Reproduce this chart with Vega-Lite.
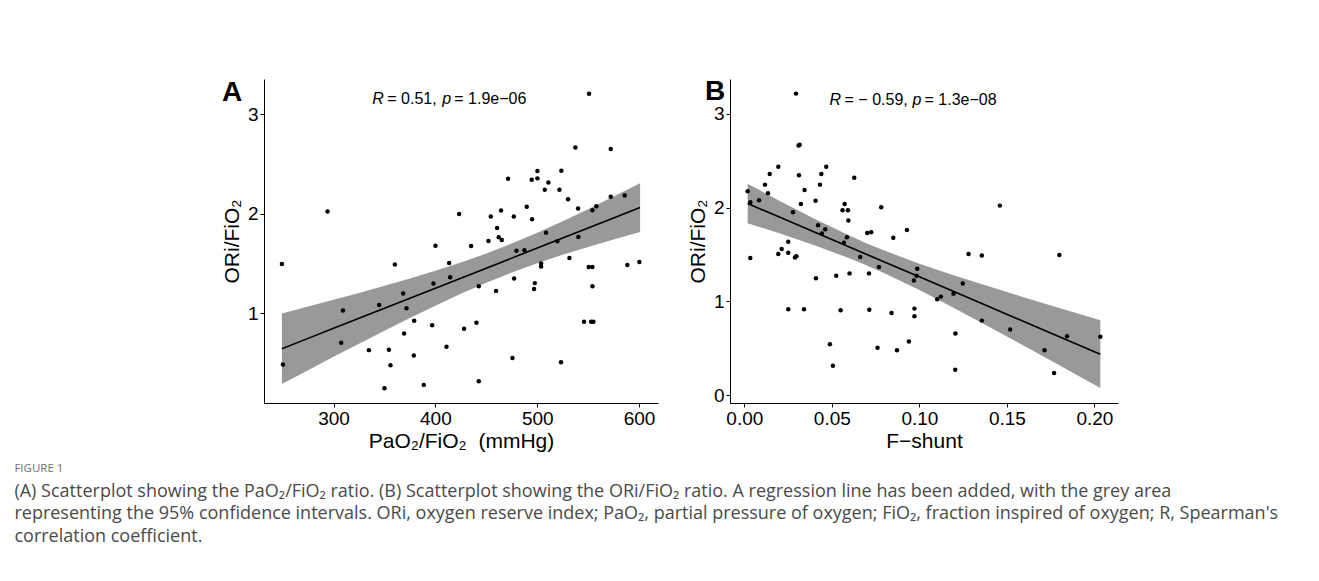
{
  "$schema": "https://vega.github.io/schema/vega-lite/v6.json",
  "padding": {"left": 14, "top": 78, "right": 5, "bottom": 5},
  "background": "white",
  "config": {
    "view": {"stroke": null},
    "font": "Liberation Sans",
    "axis": {
      "grid": false, "domainColor": "black", "tickColor": "black", "labelColor": "black",
      "titleColor": "black", "labelFontSize": 19, "titleFontSize": 21, "titleFontWeight": "normal",
      "tickSize": 4, "labelPadding": 2, "domainWidth": 1, "tickWidth": 1,
      "labelFont": "Liberation Sans", "titleFont": "Liberation Sans"
    },
    "axisY": {"titlePadding": 5},
    "axisX": {"titlePadding": 2}
  },
  "title": {
    "text": "FIGURE 1",
    "subtitle": [
      "(A) Scatterplot showing the PaO₂/FiO₂ ratio. (B) Scatterplot showing the ORi/FiO₂ ratio. A regression line has been added, with the grey area",
      "representing the 95% confidence intervals. ORi, oxygen reserve index; PaO₂, partial pressure of oxygen; FiO₂, fraction inspired of oxygen; R, Spearman's",
      "correlation coefficient."
    ],
    "orient": "bottom", "anchor": "start", "frame": "bounds", "dx": -207, "offset": 12,
    "font": "Open Sans", "fontSize": 11.5, "fontWeight": "normal", "color": "#707070",
    "subtitleFont": "Open Sans", "subtitleFontSize": 18, "subtitleColor": "#4a4a4a",
    "subtitleLineHeight": 22.5, "subtitlePadding": 8
  },
  "spacing": 29,
  "datasets": {
    "ptsA": [
      {"x":249.3,"y":1.494},{"x":250.3,"y":0.486},{"x":294.1,"y":2.022},{"x":309.2,"y":1.027},{"x":307.5,"y":0.704},
      {"x":334.7,"y":0.630},{"x":344.8,"y":1.084},{"x":350.0,"y":0.247},{"x":354.3,"y":0.634},{"x":355.9,"y":0.479},
      {"x":360.2,"y":1.491},{"x":368.4,"y":1.198},{"x":371.6,"y":1.050},{"x":369.3,"y":0.798},{"x":379.2,"y":0.926},
      {"x":378.8,"y":0.576},{"x":388.6,"y":0.281},{"x":396.8,"y":0.879},{"x":398.1,"y":1.299},{"x":400.1,"y":1.679},
      {"x":410.9,"y":0.664},{"x":413.5,"y":1.504},{"x":414.5,"y":1.363},{"x":423.3,"y":1.998},{"x":428.2,"y":0.845},
      {"x":435.1,"y":1.676},{"x":440.3,"y":0.906},{"x":442.6,"y":1.272},{"x":442.6,"y":0.318},{"x":452.1,"y":1.726},
      {"x":454.4,"y":1.971},{"x":459.6,"y":1.225},{"x":460.6,"y":1.857},{"x":462.2,"y":1.763},{"x":464.5,"y":2.032},
      {"x":465.2,"y":1.736},{"x":471.4,"y":2.351},{"x":475.7,"y":0.550},{"x":477.0,"y":1.971},{"x":477.3,"y":1.350},
      {"x":479.6,"y":1.629},{"x":487.4,"y":1.632},{"x":489.7,"y":2.069},{"x":494.6,"y":2.341},{"x":495.0,"y":1.945},
      {"x":496.9,"y":1.245},{"x":497.6,"y":1.303},{"x":500.2,"y":2.429},{"x":500.2,"y":2.355},{"x":503.8,"y":1.501},
      {"x":503.8,"y":1.471},{"x":507.4,"y":2.240},{"x":508.7,"y":1.810},{"x":511.0,"y":2.314},{"x":519.8,"y":1.723},
      {"x":521.8,"y":2.240},{"x":523.4,"y":0.509},{"x":523.7,"y":2.432},{"x":530.3,"y":2.146},{"x":531.6,"y":1.555},
      {"x":537.5,"y":2.664},{"x":540.1,"y":2.052},{"x":540.4,"y":1.766},{"x":546.0,"y":0.916},{"x":550.9,"y":3.205},
      {"x":550.6,"y":1.464},{"x":552.9,"y":0.916},{"x":554.2,"y":1.464},{"x":554.2,"y":2.035},{"x":554.2,"y":1.272},
      {"x":555.2,"y":0.916},{"x":558.1,"y":2.076},{"x":572.2,"y":2.650},{"x":572.2,"y":2.170},{"x":585.9,"y":2.183},
      {"x":588.5,"y":1.484},{"x":600.3,"y":1.514}
    ],
    "bandA": [
      {"x":249.3,"lo":0.291,"hi":0.997,"fit":0.644},
      {"x":275,"lo":0.429,"hi":1.067,"fit":0.748},
      {"x":300,"lo":0.563,"hi":1.135,"fit":0.849},
      {"x":325,"lo":0.695,"hi":1.205,"fit":0.950},
      {"x":350,"lo":0.824,"hi":1.276,"fit":1.050},
      {"x":375,"lo":0.952,"hi":1.350,"fit":1.151},
      {"x":400,"lo":1.076,"hi":1.428,"fit":1.252},
      {"x":425,"lo":1.195,"hi":1.511,"fit":1.353},
      {"x":450,"lo":1.306,"hi":1.600,"fit":1.453},
      {"x":475,"lo":1.409,"hi":1.700,"fit":1.554},
      {"x":500,"lo":1.502,"hi":1.808,"fit":1.655},
      {"x":525,"lo":1.588,"hi":1.924,"fit":1.756},
      {"x":550,"lo":1.666,"hi":2.046,"fit":1.856},
      {"x":575,"lo":1.741,"hi":2.173,"fit":1.957},
      {"x":601,"lo":1.816,"hi":2.307,"fit":2.062}
    ],
    "annA": [{"x":338,"y":3.157,"r":"R","stat":"= 0.51,","p":"p","pval":"= 1.9e−06","panel":"A"}],
    "ptsB": [
      {"x":0.0019,"y":2.174},{"x":0.0034,"y":2.057},{"x":0.0034,"y":1.461},{"x":0.0084,"y":2.078},{"x":0.0118,"y":2.245},
      {"x":0.0135,"y":2.152},{"x":0.0145,"y":2.358},{"x":0.0194,"y":2.436},{"x":0.0194,"y":1.504},{"x":0.0213,"y":1.557},
      {"x":0.0251,"y":1.635},{"x":0.0251,"y":1.518},{"x":0.0251,"y":0.915},{"x":0.0278,"y":1.950},{"x":0.0289,"y":1.468},
      {"x":0.0297,"y":1.482},{"x":0.0295,"y":3.216},{"x":0.0310,"y":2.663},{"x":0.0316,"y":2.670},{"x":0.0312,"y":2.344},
      {"x":0.0323,"y":2.039},{"x":0.0341,"y":0.915},{"x":0.0344,"y":2.188},{"x":0.0407,"y":2.074},{"x":0.0409,"y":1.245},
      {"x":0.0421,"y":1.812},{"x":0.0432,"y":2.245},{"x":0.0440,"y":2.358},{"x":0.0443,"y":1.723},{"x":0.0462,"y":1.770},
      {"x":0.0468,"y":2.436},{"x":0.0489,"y":0.543},{"x":0.0506,"y":0.312},{"x":0.0525,"y":1.273},{"x":0.0550,"y":0.904},
      {"x":0.0561,"y":1.972},{"x":0.0573,"y":2.039},{"x":0.0569,"y":1.624},{"x":0.0586,"y":1.684},{"x":0.0592,"y":1.972},
      {"x":0.0594,"y":1.862},{"x":0.0601,"y":1.298},{"x":0.0628,"y":2.319},{"x":0.0662,"y":1.472},{"x":0.0702,"y":1.730},
      {"x":0.0712,"y":1.298},{"x":0.0714,"y":0.911},{"x":0.0725,"y":1.738},{"x":0.0761,"y":0.504},{"x":0.0769,"y":1.365},
      {"x":0.0782,"y":2.004},{"x":0.0841,"y":0.876},{"x":0.0851,"y":1.677},{"x":0.0872,"y":0.479},{"x":0.0929,"y":1.762},
      {"x":0.0940,"y":0.571},{"x":0.0969,"y":1.223},{"x":0.0972,"y":0.922},{"x":0.0972,"y":0.840},{"x":0.0984,"y":1.273},
      {"x":0.0988,"y":1.348},{"x":0.1102,"y":1.021},{"x":0.1123,"y":1.050},{"x":0.1195,"y":1.082},{"x":0.1206,"y":0.656},
      {"x":0.1205,"y":0.270},{"x":0.1248,"y":1.191},{"x":0.1281,"y":1.504},{"x":0.1357,"y":1.489},{"x":0.1357,"y":0.794},
      {"x":0.1460,"y":2.021},{"x":0.1519,"y":0.699},{"x":0.1715,"y":0.479},{"x":0.1770,"y":0.234},{"x":0.1800,"y":1.493},
      {"x":0.1844,"y":0.628},{"x":0.2034,"y":0.621}
    ],
    "bandB": [
      {"x":0.0019,"lo":1.832,"hi":2.254,"fit":2.043},
      {"x":0.02,"lo":1.725,"hi":2.074,"fit":1.899},
      {"x":0.04,"lo":1.598,"hi":1.880,"fit":1.739},
      {"x":0.06,"lo":1.459,"hi":1.701,"fit":1.580},
      {"x":0.07,"lo":1.382,"hi":1.618,"fit":1.500},
      {"x":0.08,"lo":1.299,"hi":1.541,"fit":1.420},
      {"x":0.10,"lo":1.120,"hi":1.402,"fit":1.261},
      {"x":0.12,"lo":0.927,"hi":1.276,"fit":1.101},
      {"x":0.14,"lo":0.727,"hi":1.157,"fit":0.942},
      {"x":0.16,"lo":0.523,"hi":1.041,"fit":0.782},
      {"x":0.18,"lo":0.317,"hi":0.929,"fit":0.623},
      {"x":0.2034,"lo":0.074,"hi":0.798,"fit":0.436}
    ],
    "annB": [{"x":0.0487,"y":3.149,"r":"R","stat":"= − 0.59,","p":"p","pval":"= 1.3e−08","panel":"B"}]
  },
  "hconcat": [
    {
      "width": 394, "height": 324,
      "layer": [
        {
          "data": {"name": "bandA"},
          "mark": {"type": "area", "color": "#999999", "opacity": 1},
          "encoding": {
            "x": {"field": "x", "type": "quantitative", "scale": {"domain": [231.7, 618.6], "nice": false, "zero": false},
                  "axis": {"values": [300, 400, 500, 600], "format": "d", "title": "PaO₂/FiO₂\u00a0\u00a0(mmHg)"}},
            "y": {"field": "lo", "type": "quantitative", "scale": {"domain": [0.099, 3.353], "nice": false, "zero": false},
                  "axis": {"values": [1, 2, 3], "format": "d", "title": "ORi/FiO₂"}},
            "y2": {"field": "hi"}
          }
        },
        {
          "data": {"name": "bandA"},
          "mark": {"type": "line", "color": "black", "strokeWidth": 1.6},
          "encoding": {
            "x": {"field": "x", "type": "quantitative"},
            "y": {"field": "fit", "type": "quantitative"}
          }
        },
        {
          "data": {"name": "ptsA"},
          "mark": {"type": "circle", "color": "black", "size": 20, "opacity": 1},
          "encoding": {
            "x": {"field": "x", "type": "quantitative"},
            "y": {"field": "y", "type": "quantitative"}
          }
        },
        {
          "data": {"name": "annA"},
          "mark": {"type": "text", "align": "left", "baseline": "middle", "fontSize": 16, "fontStyle": "italic", "color": "black"},
          "encoding": {"x": {"field": "x", "type": "quantitative"}, "y": {"field": "y", "type": "quantitative"}, "text": {"field": "r"}}
        },
        {
          "data": {"name": "annA"},
          "mark": {"type": "text", "align": "left", "baseline": "middle", "fontSize": 16, "color": "black", "dx": 15},
          "encoding": {"x": {"field": "x", "type": "quantitative"}, "y": {"field": "y", "type": "quantitative"}, "text": {"field": "stat"}}
        },
        {
          "data": {"name": "annA"},
          "mark": {"type": "text", "align": "left", "baseline": "middle", "fontSize": 16, "fontStyle": "italic", "color": "black", "dx": 70},
          "encoding": {"x": {"field": "x", "type": "quantitative"}, "y": {"field": "y", "type": "quantitative"}, "text": {"field": "p"}}
        },
        {
          "data": {"name": "annA"},
          "mark": {"type": "text", "align": "left", "baseline": "middle", "fontSize": 16, "color": "black", "dx": 82},
          "encoding": {"x": {"field": "x", "type": "quantitative"}, "y": {"field": "y", "type": "quantitative"}, "text": {"field": "pval"}}
        },
        {
          "data": {"name": "annA"},
          "mark": {"type": "text", "align": "left", "baseline": "alphabetic", "fontSize": 28, "fontWeight": "bold", "color": "black", "dx": -42, "dy": 22},
          "encoding": {
            "x": {"datum": 231.7, "type": "quantitative"},
            "y": {"datum": 3.353, "type": "quantitative"},
            "text": {"field": "panel"}
          }
        }
      ]
    },
    {
      "width": 388, "height": 324,
      "layer": [
        {
          "data": {"name": "bandB"},
          "mark": {"type": "area", "color": "#999999", "opacity": 1},
          "encoding": {
            "x": {"field": "x", "type": "quantitative", "scale": {"domain": [-0.0082, 0.2135], "nice": false, "zero": false},
                  "axis": {"values": [0, 0.05, 0.1, 0.15, 0.2], "format": ".2f", "title": "F−shunt"}},
            "y": {"field": "lo", "type": "quantitative", "scale": {"domain": [-0.085, 3.372], "nice": false, "zero": false},
                  "axis": {"values": [0, 1, 2, 3], "format": "d", "title": "ORi/FiO₂"}},
            "y2": {"field": "hi"}
          }
        },
        {
          "data": {"name": "bandB"},
          "mark": {"type": "line", "color": "black", "strokeWidth": 1.6},
          "encoding": {
            "x": {"field": "x", "type": "quantitative"},
            "y": {"field": "fit", "type": "quantitative"}
          }
        },
        {
          "data": {"name": "ptsB"},
          "mark": {"type": "circle", "color": "black", "size": 20, "opacity": 1},
          "encoding": {
            "x": {"field": "x", "type": "quantitative"},
            "y": {"field": "y", "type": "quantitative"}
          }
        },
        {
          "data": {"name": "annB"},
          "mark": {"type": "text", "align": "left", "baseline": "middle", "fontSize": 16, "fontStyle": "italic", "color": "black"},
          "encoding": {"x": {"field": "x", "type": "quantitative"}, "y": {"field": "y", "type": "quantitative"}, "text": {"field": "r"}}
        },
        {
          "data": {"name": "annB"},
          "mark": {"type": "text", "align": "left", "baseline": "middle", "fontSize": 16, "color": "black", "dx": 15},
          "encoding": {"x": {"field": "x", "type": "quantitative"}, "y": {"field": "y", "type": "quantitative"}, "text": {"field": "stat"}}
        },
        {
          "data": {"name": "annB"},
          "mark": {"type": "text", "align": "left", "baseline": "middle", "fontSize": 16, "fontStyle": "italic", "color": "black", "dx": 83},
          "encoding": {"x": {"field": "x", "type": "quantitative"}, "y": {"field": "y", "type": "quantitative"}, "text": {"field": "p"}}
        },
        {
          "data": {"name": "annB"},
          "mark": {"type": "text", "align": "left", "baseline": "middle", "fontSize": 16, "color": "black", "dx": 95},
          "encoding": {"x": {"field": "x", "type": "quantitative"}, "y": {"field": "y", "type": "quantitative"}, "text": {"field": "pval"}}
        },
        {
          "data": {"name": "annB"},
          "mark": {"type": "text", "align": "left", "baseline": "alphabetic", "fontSize": 28, "fontWeight": "bold", "color": "black", "dx": -25, "dy": 21},
          "encoding": {
            "x": {"datum": -0.0082, "type": "quantitative"},
            "y": {"datum": 3.372, "type": "quantitative"},
            "text": {"field": "panel"}
          }
        }
      ]
    }
  ]
}
